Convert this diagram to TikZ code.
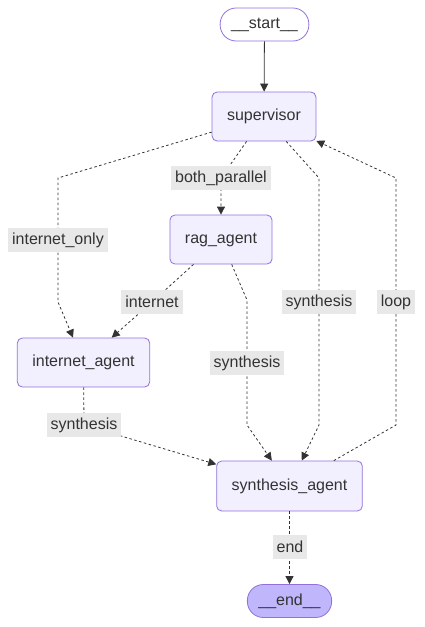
\documentclass[tikz,border=0pt]{standalone}
\usepackage{fontspec}
\setmainfont{Liberation Sans}
\usetikzlibrary{arrows.meta}

\definecolor{boxfill}{HTML}{F2F0FF}
\definecolor{boxline}{HTML}{9370DB}
\definecolor{endfill}{HTML}{BFB6FC}
\definecolor{ink}{HTML}{333333}
\definecolor{lblfill}{HTML}{E8E8E8}

\begin{document}
\begin{tikzpicture}[x=1pt, y=-1pt]
\useasboundingbox (0,0) rectangle (424,627);

\tikzstyle{v}=[draw=boxline, fill=boxfill, rounded corners=5pt, line width=0.8pt, text=ink, font=\fontsize{16}{19}\selectfont, inner xsep=15pt, inner ysep=0pt, minimum height=49pt];
\tikzstyle{pill}=[draw=boxline, rounded corners=16pt, line width=0.8pt, text=ink, font=\fontsize{16}{19}\selectfont, inner xsep=11pt, inner ysep=0pt, minimum height=33pt];
\tikzstyle{lbl}=[fill=lblfill, text=ink, font=\fontsize{16}{19}\selectfont, inner xsep=4pt, inner ysep=0pt, minimum height=24pt];
\tikzstyle{e}=[draw=ink, line width=0.8pt, dash pattern=on 2.5pt off 2.5pt, -{Triangle[length=8pt,width=8pt]}];

\node[pill, fill=white] (start) at (264.5, 24.5) {\_\_start\_\_};
\node[v] (sup) at (264, 116.5) {supervisor};
\node[v] (rag) at (221, 239.5) {rag\_agent};
\node[v] (inet) at (83.5, 362.5) {internet\_agent};
\node[v, minimum height=50pt] (synth) at (289.5, 486) {synthesis\_agent};
\node[pill, fill=endfill] (end) at (289.5, 601) {\_\_end\_\_};

\draw[draw=ink, line width=0.8pt, -{Triangle[length=8pt,width=8pt]}] (start) -- (sup);
\draw[e] (sup) -- (58,178) -- (58,302) -- (inet);
\draw[e] (sup) -- (221,178) -- (rag);
\draw[e] (sup) -- (319,178) -- (319,425) -- (synth);
\draw[e] (synth) -- (396,425) -- (396,178) -- (sup);
\draw[e] (rag) -- (152,302) -- (inet);
\draw[e] (rag) -- (247,300) -- (247,425) -- (synth);
\draw[e] (inet) -- (84,425) -- (synth);
\draw[e] (synth) -- (end);

\node[lbl] (l_both) at (221, 178) {both\_parallel};
\node[lbl] (l_only) at (58, 240) {internet\_only};
\node[lbl] (l_inet) at (152, 302) {internet};
\node[lbl] (l_sup_syn) at (319, 302) {synthesis};
\node[lbl] (l_loop) at (396, 302) {loop};
\node[lbl] (l_rag_syn) at (247, 363) {synthesis};
\node[lbl] (l_inet_syn) at (84, 425) {synthesis};
\node[lbl] (l_end) at (290, 547) {end};
\end{tikzpicture}
\end{document}
